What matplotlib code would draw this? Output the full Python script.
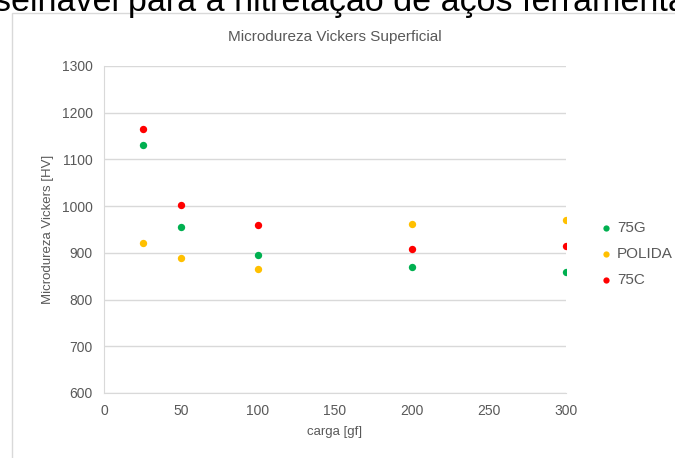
import matplotlib
matplotlib.use('Agg')
import matplotlib.pyplot as plt
from matplotlib.patches import Rectangle

plt.rcParams['font.family'] = ['Liberation Sans', 'DejaVu Sans']

carga = [25, 50, 100, 200, 300]
hv_75g = [1130, 955, 895, 870, 859]
hv_polida = [921, 890, 866, 962, 971]
hv_75c = [1166, 1003, 959, 908, 915]

series = [('75G', hv_75g, '#00B050'),
          ('POLIDA', hv_polida, '#FFC000'),
          ('75C', hv_75c, '#FF0000')]

grey = '#595959'

fig = plt.figure(figsize=(6.75, 4.58), dpi=100)

# page text cut off above the chart
fig.text(128 / 675, 1 - 11 / 458, 'aconselhável ', fontsize=24.5, color='black',
         ha='right', va='baseline')
fig.text(128 / 675, 1 - 11 / 458, 'para a nitretação de aços ferramenta', fontsize=24.5,
         color='black', ha='left', va='baseline')

# chart frame
fig.patches.append(Rectangle((12 / 675, -0.1), 1.2, 1.1 - 13 / 458,
                             transform=fig.transFigure, fill=False,
                             edgecolor='#D9D9D9', linewidth=1))

ax = fig.add_axes([104 / 675, 65 / 458, 462 / 675, 327 / 458])

for name, vals, col in series:
    ax.scatter(carga, vals, s=28, color=col, label=name, zorder=3, linewidths=0)

ax.set_xlim(0, 300)
ax.set_ylim(600, 1300)
ax.set_xticks(range(0, 301, 50))
ax.set_yticks(range(600, 1301, 100))
ax.grid(axis='y', color='#D9D9D9', linewidth=1)
ax.set_axisbelow(True)
for s in ['top', 'right']:
    ax.spines[s].set_visible(False)
for s in ['left', 'bottom']:
    ax.spines[s].set_color('#D9D9D9')
ax.tick_params(length=0, colors=grey, labelsize=10, pad=8)

ax.set_title('Microdureza Vickers Superficial', color=grey, fontsize=11, pad=18)
ax.set_xlabel('carga [gf]', color=grey, fontsize=9.5, labelpad=6)
ax.set_ylabel('Microdureza Vickers [HV]', color=grey, fontsize=9.5, labelpad=6)

fig.legend(loc='center left', bbox_to_anchor=(600 / 675, 1 - 254 / 458),
           frameon=False, fontsize=11, labelcolor=grey, handlelength=0.8,
           handletextpad=0.3, borderpad=0, borderaxespad=0,
           labelspacing=0.8, markerscale=0.85)

fig.savefig('out.png', dpi=100)
